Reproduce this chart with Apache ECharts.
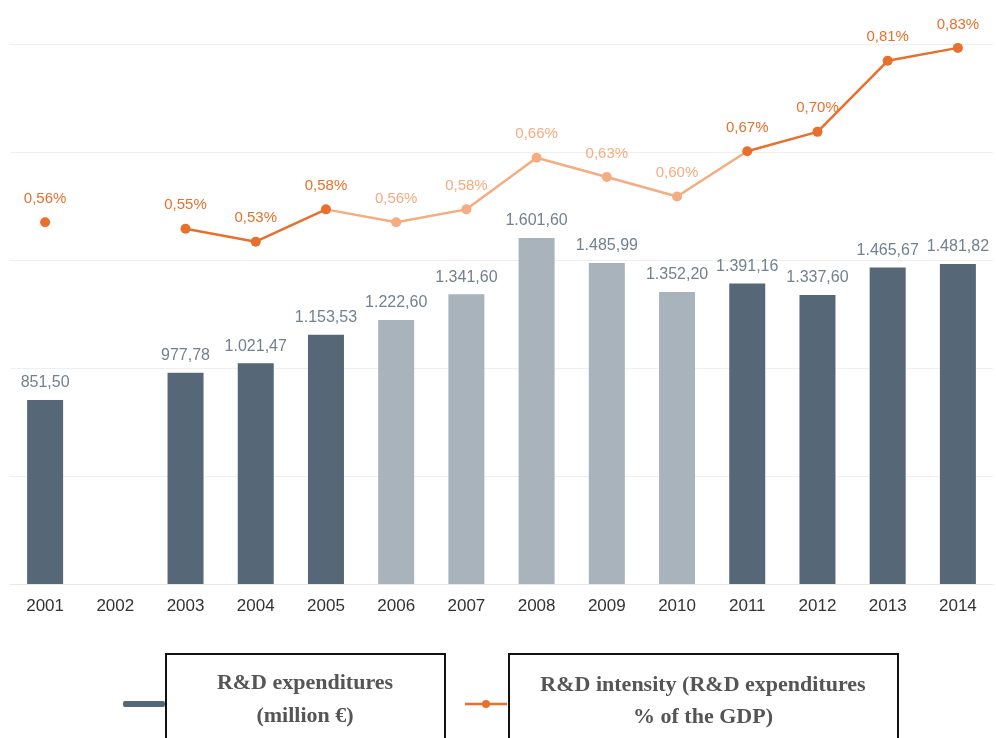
<!DOCTYPE html>
<html>
<head>
<meta charset="utf-8">
<title>R&amp;D expenditures and intensity</title>
<script src="https://cdn.jsdelivr.net/npm/echarts@6/dist/echarts.min.js"></script>
<style>
  html, body { margin: 0; padding: 0; background: #ffffff; }
  #chart { width: 996px; height: 738px; }
</style>
</head>
<body>
<div id="chart"></div>
<script>
// Years on the category axis
const years = ['2001', '2002', '2003', '2004', '2005', '2006', '2007',
               '2008', '2009', '2010', '2011', '2012', '2013', '2014'];

// R&D expenditures, million € (no figure for 2002)
const expenditures = [851.50, null, 977.78, 1021.47, 1153.53, 1222.60, 1341.60,
                      1601.60, 1485.99, 1352.20, 1391.16, 1337.60, 1465.67, 1481.82];

// R&D intensity, % of GDP (no figure for 2002)
const intensity = [0.56, null, 0.55, 0.53, 0.58, 0.56, 0.58,
                   0.66, 0.63, 0.60, 0.67, 0.70, 0.81, 0.83];

// Years drawn in the lighter tone
const lightYears = ['2006', '2007', '2008', '2009', '2010'];

const BAR_DARK = '#566777';
const BAR_LIGHT = '#a9b3bb';
const LINE_DARK = '#e8702c';
const LINE_LIGHT = '#f4ac80';
const BAR_LABEL = '#73818e';

function euroNumber(v) {
  const parts = v.toFixed(2).split('.');
  const intPart = parts[0].replace(/\B(?=(\d{3})+(?!\d))/g, '.');
  return intPart + ',' + parts[1];
}

const isLight = y => lightYears.indexOf(y) !== -1;

const barData = expenditures.map((v, i) => ({
  value: v,
  itemStyle: { color: isLight(years[i]) ? BAR_LIGHT : BAR_DARK }
}));

const lineData = intensity.map((v, i) => ({
  value: v,
  label: { color: isLight(years[i]) ? LINE_LIGHT : LINE_DARK }
}));

const chart = echarts.init(document.getElementById('chart'), null, { renderer: 'canvas' });

const legendFont = 'bold 22px "Liberation Serif", "DejaVu Serif", serif';

chart.setOption({
  animation: false,
  backgroundColor: '#ffffff',
  grid: { left: 10, right: 3, top: 44, bottom: 154 },
  xAxis: {
    type: 'category',
    data: years,
    axisLine: { show: true, lineStyle: { color: '#e9e9e9', width: 1 } },
    axisTick: { show: false },
    axisLabel: {
      color: '#333333',
      fontSize: 17,
      fontFamily: 'Liberation Sans, Arial, sans-serif',
      margin: 14
    }
  },
  yAxis: [
    {
      type: 'value',
      min: 0,
      max: 2500,
      interval: 500,
      axisLabel: { show: false },
      axisLine: { show: false },
      axisTick: { show: false },
      splitLine: { lineStyle: { color: '#efefef', width: 1 } }
    },
    {
      type: 'value',
      min: 0,
      max: 0.836,
      axisLabel: { show: false },
      axisLine: { show: false },
      axisTick: { show: false },
      splitLine: { show: false }
    }
  ],
  visualMap: {
    show: false,
    seriesIndex: 1,
    dimension: 0,
    pieces: [
      { lte: 4, color: LINE_DARK },
      { gt: 4, lt: 10, color: LINE_LIGHT },
      { gte: 10, color: LINE_DARK }
    ]
  },
  series: [
    {
      name: 'R&D expenditures (million €)',
      type: 'bar',
      yAxisIndex: 0,
      barWidth: 36,
      data: barData,
      label: {
        show: true,
        position: 'top',
        distance: 9,
        color: BAR_LABEL,
        fontSize: 16,
        fontFamily: 'Liberation Sans, Arial, sans-serif',
        formatter: p => (p.value == null ? '' : euroNumber(p.value))
      }
    },
    {
      name: 'R&D intensity (R&D expenditures % of the GDP)',
      type: 'line',
      yAxisIndex: 1,
      data: lineData,
      connectNulls: false,
      symbol: 'circle',
      symbolSize: 10,
      lineStyle: { width: 2.5 },
      label: {
        show: true,
        position: 'top',
        distance: 11,
        fontSize: 15,
        fontFamily: 'Liberation Sans, Arial, sans-serif',
        formatter: p => (p.value == null ? '' : p.value.toFixed(2).replace('.', ',') + '%')
      },
      z: 5
    }
  ],
  graphic: [
    // legend swatch: bar series
    {
      type: 'rect',
      shape: { x: 123, y: 701, width: 42, height: 6, r: 2 },
      style: { fill: BAR_DARK }
    },
    // legend swatch: line series
    {
      type: 'line',
      shape: { x1: 465, y1: 704, x2: 507, y2: 704 },
      style: { stroke: LINE_DARK, lineWidth: 2.5 }
    },
    {
      type: 'circle',
      shape: { cx: 486, cy: 704, r: 4 },
      style: { fill: LINE_DARK }
    },
    // legend text boxes
    {
      type: 'rect',
      shape: { x: 166, y: 654, width: 279, height: 100 },
      style: { fill: '#ffffff', stroke: '#111111', lineWidth: 2 }
    },
    {
      type: 'text',
      x: 305,
      y: 700,
      style: {
        text: 'R&D expenditures\n(million €)',
        fill: '#555555',
        font: legendFont,
        align: 'center',
        verticalAlign: 'middle',
        lineHeight: 33
      }
    },
    {
      type: 'rect',
      shape: { x: 509, y: 654, width: 389, height: 100 },
      style: { fill: '#ffffff', stroke: '#111111', lineWidth: 2 }
    },
    {
      type: 'text',
      x: 703,
      y: 701,
      style: {
        text: 'R&D intensity (R&D expenditures\n% of the GDP)',
        fill: '#555555',
        font: legendFont,
        align: 'center',
        verticalAlign: 'middle',
        lineHeight: 32
      }
    }
  ]
});
</script>
</body>
</html>
